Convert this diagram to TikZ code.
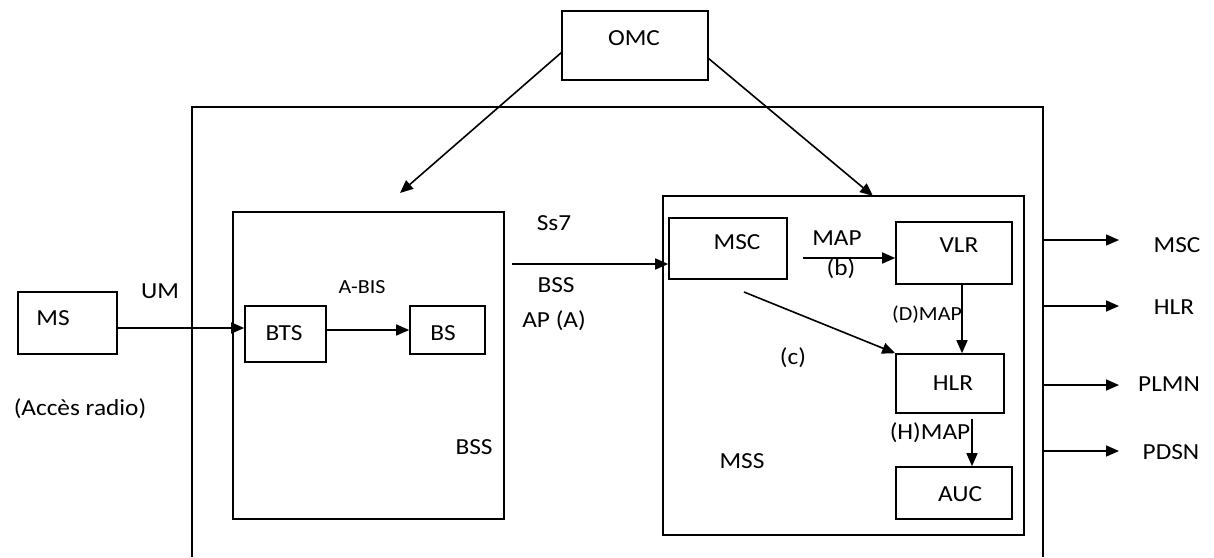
\documentclass[tikz,border=0pt]{standalone}
\usepackage{fontspec}
\setmainfont[FakeStretch=1.1]{Carlito}
\usetikzlibrary{arrows.meta,calc}
\begin{document}
\begin{tikzpicture}[x=1pt,y=-1pt,
  box/.style={draw,line width=1.6pt,rectangle,inner sep=0pt},
  lbl/.style={inner sep=0pt,font=\fontsize{23}{26}\selectfont},
  slbl/.style={inner sep=0pt,font=\fontsize{20}{23}\selectfont},
  arr/.style={line width=1.6pt,-{Triangle[length=13pt,width=11pt]}},
  plain/.style={line width=1.6pt}]
\useasboundingbox (0,0) rectangle (1214,557);
% outer frame (bottom out of view)
\draw[plain] (192,557) -- (192,107) -- (1043,107) -- (1043,557);
% boxes
\node[box,minimum width=146pt,minimum height=69pt] (omc) at (635,45.5) {};
\node[box,minimum width=99pt,minimum height=62pt] (ms) at (67.5,323) {};
\node[box,minimum width=271pt,minimum height=307pt] (bss) at (368.5,365.5) {};
\node[box,minimum width=81pt,minimum height=56pt] (bts) at (285.5,334) {};
\node[box,minimum width=75pt,minimum height=48pt] (bs) at (447.5,330) {};
\node[box,minimum width=361pt,minimum height=339pt] (mss) at (843.5,365.5) {};
\node[box,minimum width=118pt,minimum height=61pt] (msc) at (728,248.5) {};
\node[box,minimum width=116pt,minimum height=62pt] (vlr) at (954,253) {};
\node[box,minimum width=108pt,minimum height=59pt] (hlr) at (950,383.5) {};
\node[box,minimum width=116pt,minimum height=52pt] (auc) at (954,493) {};
% texts
\node[lbl] (tomc) at (634,38) {OMC};
\node[lbl] (tms) at (53,318) {MS};
\node[lbl] (tum) at (160,291) {UM};
\node[slbl] (tabis) at (362,287) {A-BIS};
\node[lbl] (tbts) at (284,333) {BTS};
\node[lbl] (tbs) at (443,333) {BS};
\node[lbl] (tacc) at (80,409) {(Accès radio)};
\node[lbl] (tbss) at (474,447) {BSS};
\node[lbl] (tss7) at (554,223) {Ss7};
\node[lbl] (tbss2) at (556,285) {BSS};
\node[lbl] (tap) at (554,321) {AP (A)};
\node[lbl] (tmsc) at (737,242) {MSC};
\node[lbl] (tmap) at (837,238) {MAP};
\node[lbl] (tb) at (841,269) {(b)};
\node[lbl] (tvlr) at (959,245) {VLR};
\node[slbl] (tdmap) at (927,315) {(D)MAP};
\node[lbl] (tc) at (793,358) {(c)};
\node[lbl] (thlr) at (953,383) {HLR};
\node[lbl] (thmap) at (930,433) {(H)MAP};
\node[lbl] (tmss) at (742,461) {MSS};
\node[lbl] (tauc) at (960,494) {AUC};
\node[lbl] (rmsc) at (1177,245) {MSC};
\node[lbl] (rhlr) at (1174,307) {HLR};
\node[lbl] (rplmn) at (1169,384) {PLMN};
\node[lbl] (rpdsn) at (1171,452) {PDSN};
% free-end coordinates
\coordinate (omcL) at (562,52);
\coordinate (omcR) at (708,58);
\coordinate (bssTip) at (400,193);
\coordinate (mssTip) at (873,196);
\coordinate (ssStart) at (512,264);
\coordinate (mapStart) at (803,258);
\coordinate (diagStart) at (744,292);
\coordinate (hmapStart) at (972,419);
\coordinate (o1) at (1043,240); \coordinate (e1) at (1119,240);
\coordinate (o2) at (1043,306); \coordinate (e2) at (1119,306);
\coordinate (o3) at (1043,385); \coordinate (e3) at (1119,385);
\coordinate (o4) at (1043,451); \coordinate (e4) at (1119,451);
% connectors
\draw[arr] (omcL) -- (bssTip);
\draw[arr] (omcR) -- (mssTip);
\draw[arr] (ms.east |- 0,328) -- (bts.west |- 0,328);
\draw[arr] (bts.east |- bs.west) -- (bs.west);
\draw[arr] (ssStart) -- (msc.west |- ssStart);
\draw[arr] (mapStart) -- (vlr.west |- mapStart);
\draw[arr] (diagStart) -- (hlr.north west);
\draw[arr] (vlr.south -| 962,0) -- (hlr.north -| 962,0);
\draw[arr] (hmapStart) -- (auc.north -| hmapStart);
\draw[arr] (o1) -- (e1);
\draw[arr] (o2) -- (e2);
\draw[arr] (o3) -- (e3);
\draw[arr] (o4) -- (e4);
\end{tikzpicture}
\end{document}
